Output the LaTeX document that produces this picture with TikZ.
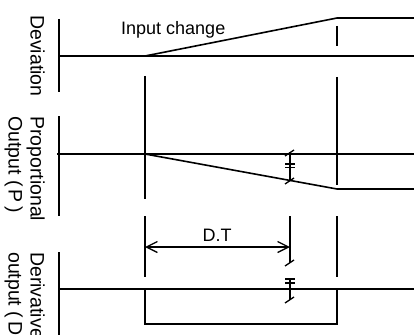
\documentclass[tikz,border=0pt]{standalone}
\usepackage{fontspec}
\setmainfont{Liberation Sans}
\usetikzlibrary{arrows.meta}
\begin{document}
\begin{tikzpicture}[x=1pt,y=-1pt,
  ln/.style={line width=1.6pt},
  thin/.style={line width=1.3pt},
  lbl/.style={font=\fontsize{18}{22}\selectfont, inner sep=0pt},
  vlbl/.style={font=\fontsize{19.5}{22}\selectfont, inner sep=0pt, rotate=-90, align=left, anchor=north west}]
\useasboundingbox (0,0) rectangle (414,334);
\clip (0,0) rectangle (414,334);
% axes
\draw[ln] (59,19) -- (59,92);
\draw[ln] (59,116) -- (59,216);
\draw[ln] (59,252) -- (59,340);
% deviation
\draw[ln] (60,56) -- (414,56);
\draw[ln] (145,56) -- (337,18) -- (414,18);
\draw[ln] (337,26) -- (337,46);
% proportional
\draw[ln] (57,154) -- (414,154);
\draw[ln] (145,154) -- (337,189) -- (414,189);
% derivative
\draw[ln] (59,289) -- (414,289);
\draw[ln] (145,289) -- (145,324) -- (337,324) -- (337,289);
% vertical guide lines
\draw[ln] (145,76) -- (145,199);
\draw[ln] (145,216) -- (145,277);
\draw[ln] (337,77) -- (337,185);
\draw[ln] (337,216) -- (337,277);
% break marks proportional
\draw[thin] (290,152) -- (290,181);
\draw[thin] (285,156) -- (294,150);
\draw[thin] (285,184) -- (294,178);
\draw[line width=1.8pt] (285,164) -- (295,164) (285,167.5) -- (295,167.5);
% break marks derivative
\draw[thin] (290,216) -- (290,263);
\draw[thin] (285,266) -- (294,260);
\draw[thin] (290,278) -- (290,300);
\draw[thin] (285,279) -- (295,279) (285,283) -- (295,283);
\draw[thin] (285,303) -- (294,297);
% D.T arrow
\coordinate (dtl) at (145,247);
\coordinate (dtr) at (290,247);
\draw[thin, {Straight Barb[length=11pt,width=11pt]}-{Straight Barb[length=11pt,width=11pt]}] (dtl) -- (dtr);
\node[lbl] (dt) at (217,235) {D.T};
% labels
\node[lbl, anchor=base west] (inp) at (121,35) {Input change};
\node[vlbl] (dev) at (45,15) {Deviation};
\node[vlbl] (prop) at (45,116) {Proportional\\Output (\,P\,)};
\node[vlbl] (deriv) at (45,252) {Derivative\\output (\,D\,)};
\end{tikzpicture}
\end{document}
